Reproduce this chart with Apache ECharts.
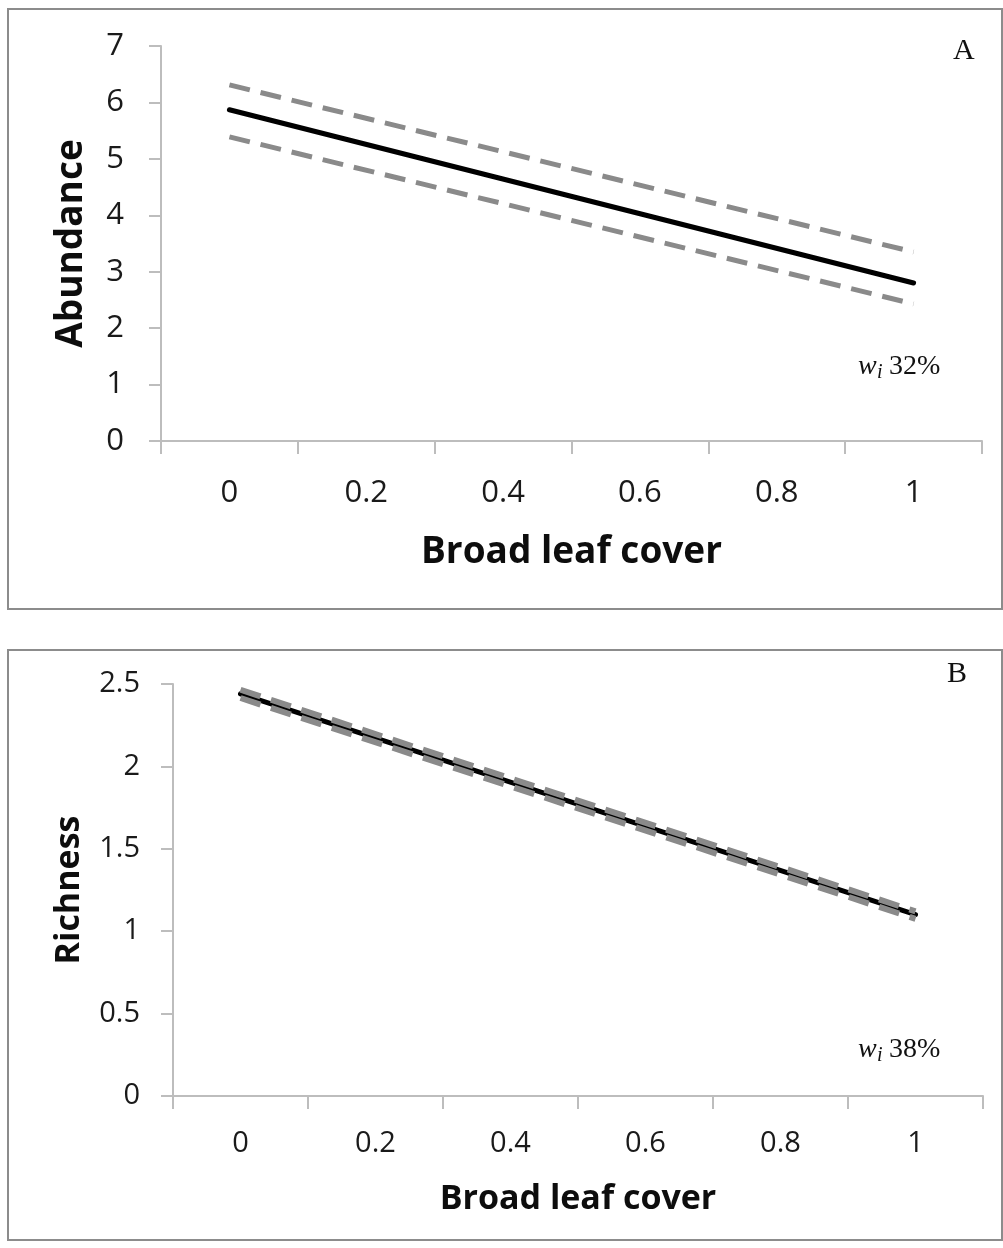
<!DOCTYPE html>
<html>
<head>
<meta charset="utf-8">
<title>Broad leaf cover effects</title>
<script src="https://cdn.jsdelivr.net/npm/echarts@6/dist/echarts.min.js"></script>
<style>
  html, body { margin: 0; padding: 0; background: #fff; }
  #chart { width: 1003px; height: 1248px; }
</style>
</head>
<body>
<div id="chart"></div>
<script>
// Categories along the x axis (broad leaf cover proportion)
const coverLabels = ['0', '0.2', '0.4', '0.6', '0.8', '1'];
// Fitted lines run from the first to the last category
const coverEnds = ['0', '1'];

// Panel A: abundance, model fit with upper/lower bounds
const abundanceFit = [5.87, 2.80];
const abundanceUpper = [6.31, 3.35];
const abundanceLower = [5.39, 2.43];

// Panel B: richness, model fit with upper/lower bounds
const richnessFit = [2.44, 1.10];
const richnessUpper = [2.465, 1.12];
const richnessLower = [2.415, 1.075];

// Panel labels and Akaike weights
const panelLetters = ['A', 'B'];
const modelWeights = ['32%', '38%'];

const pair = (vals) => coverEnds.map((c, i) => [c, vals[i]]);

const FONT = 'Open Sans';
const SERIF = 'Liberation Serif';
const AXIS_GREY = '#bdbdbd';

function xAxisFor(gridIndex, labelSize, nameSize, labelMargin, nameGap) {
  return {
    gridIndex: gridIndex,
    type: 'category',
    data: coverLabels,
    boundaryGap: true,
    axisLine: { lineStyle: { color: AXIS_GREY, width: 2 } },
    axisTick: { show: true, length: 13, lineStyle: { color: AXIS_GREY, width: 2 } },
    axisLabel: { fontFamily: FONT, fontSize: labelSize, color: '#1a1a1a', margin: labelMargin },
    splitLine: { show: false },
    name: 'Broad leaf cover',
    nameLocation: 'middle',
    nameGap: nameGap,
    nameTextStyle: { fontFamily: FONT, fontSize: nameSize, fontWeight: 'bold', color: '#0d0d0d' }
  };
}

function yAxisFor(gridIndex, max, interval, title, labelSize, nameSize, labelMargin, nameGap) {
  return {
    gridIndex: gridIndex,
    type: 'value',
    min: 0,
    max: max,
    interval: interval,
    axisLine: { show: true, lineStyle: { color: AXIS_GREY, width: 2 } },
    axisTick: { show: true, length: 12, lineStyle: { color: AXIS_GREY, width: 2 } },
    axisLabel: { fontFamily: FONT, fontSize: labelSize, color: '#1a1a1a', margin: labelMargin },
    splitLine: { show: false },
    name: title,
    nameLocation: 'middle',
    nameGap: nameGap,
    nameRotate: 90,
    nameTextStyle: { fontFamily: FONT, fontSize: nameSize, fontWeight: 'bold', color: '#0d0d0d' }
  };
}

function fitSeries(idx, vals, width) {
  return {
    type: 'line', xAxisIndex: idx, yAxisIndex: idx,
    data: pair(vals), symbol: 'none', z: 2, silent: true,
    lineStyle: { color: '#000', width: width, cap: 'round' }
  };
}
function boundSeries(idx, vals, width) {
  return {
    type: 'line', xAxisIndex: idx, yAxisIndex: idx,
    data: pair(vals), symbol: 'none', z: 3, silent: true,
    lineStyle: { color: '#8a8a8a', width: width, type: [21, 11] }
  };
}

function weightText(x, y, pct) {
  return [
    { type: 'text', left: x, top: y, style: { text: 'w', font: 'italic 28px "' + SERIF + '"', fill: '#111' } },
    { type: 'text', left: x + 19, top: y + 10, style: { text: 'i', font: 'italic 20px "' + SERIF + '"', fill: '#111' } },
    { type: 'text', left: x + 31, top: y, style: { text: pct, font: '28px "' + SERIF + '"', fill: '#111' } }
  ];
}

const chart = echarts.init(document.getElementById('chart'), null, { renderer: 'canvas' });

chart.setOption({
  animation: false,
  backgroundColor: '#fff',
  grid: [
    { left: 161, top: 46, width: 821, height: 395 },
    { left: 173, top: 684, width: 810, height: 412 }
  ],
  xAxis: [
    xAxisFor(0, 31, 37, 37, 93),
    xAxisFor(1, 29, 34, 33, 86)
  ],
  yAxis: [
    yAxisFor(0, 7, 1, 'Abundance', 31, 37, 37, 71),
    yAxisFor(1, 2.5, 0.5, 'Richness', 29, 34, 33, 87)
  ],
  series: [
    fitSeries(0, abundanceFit, 5),
    boundSeries(0, abundanceUpper, 5),
    boundSeries(0, abundanceLower, 5),
    fitSeries(1, richnessFit, 5),
    boundSeries(1, richnessUpper, 6),
    boundSeries(1, richnessLower, 6)
  ],
  graphic: [
    { type: 'rect', shape: { x: 8, y: 9, width: 994, height: 600 }, style: { fill: 'none', stroke: '#8c8c8c', lineWidth: 2 }, z: 0 },
    { type: 'rect', shape: { x: 8, y: 650, width: 994, height: 590 }, style: { fill: 'none', stroke: '#8c8c8c', lineWidth: 2 }, z: 0 },
    { type: 'text', left: 953, top: 36, style: { text: panelLetters[0], font: '30px "' + SERIF + '"', fill: '#111' } },
    { type: 'text', left: 947, top: 659, style: { text: panelLetters[1], font: '30px "' + SERIF + '"', fill: '#111' } }
  ].concat(weightText(858, 353, modelWeights[0]), weightText(858, 1036, modelWeights[1]))
});
</script>
</body>
</html>
